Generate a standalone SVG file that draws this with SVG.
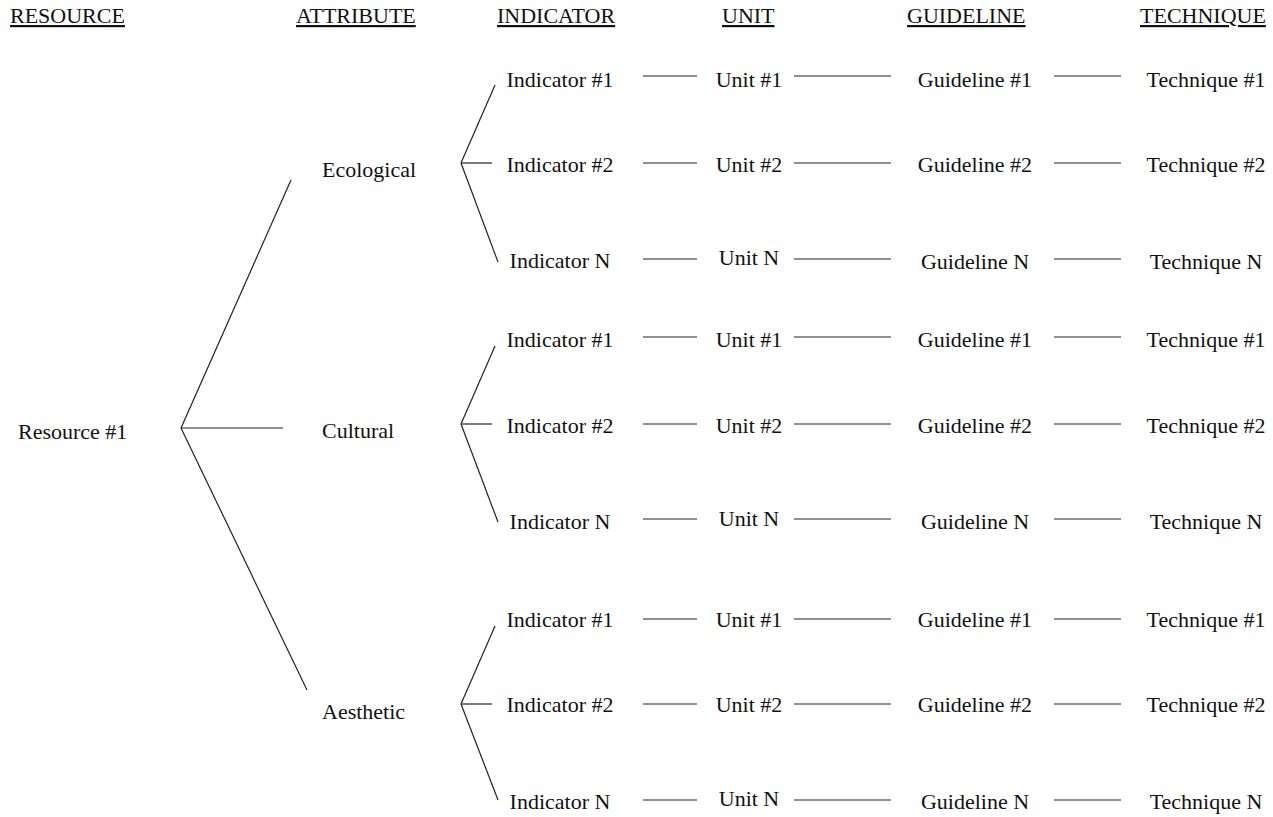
<svg xmlns="http://www.w3.org/2000/svg" width="1273" height="817" viewBox="0 0 1273 817">
<style>
text{font-family:"Liberation Serif","Times New Roman",serif;font-size:22px;fill:#111}
.h{text-decoration:underline}
.m{text-anchor:middle}
#connectors line{stroke:#222;stroke-width:1.2}
</style>
<rect width="1273" height="817" fill="#fff"/>
<g id="headers">
<text class="h" x="10" y="23">RESOURCE</text>
<text class="h" x="296" y="23">ATTRIBUTE</text>
<text class="h" x="497" y="23">INDICATOR</text>
<text class="h" x="722" y="23">UNIT</text>
<text class="h" x="907" y="23">GUIDELINE</text>
<text class="h" x="1140" y="23">TECHNIQUE</text>
</g>
<g id="connectors">
<line x1="181" y1="428" x2="291" y2="180"/>
<line x1="181" y1="428" x2="283" y2="428"/>
<line x1="181" y1="428" x2="307" y2="690"/>
<line x1="461" y1="163" x2="495" y2="85"/>
<line x1="461" y1="163" x2="492" y2="163"/>
<line x1="461" y1="163" x2="498" y2="262"/>
<line x1="461" y1="424" x2="495" y2="346"/>
<line x1="461" y1="424" x2="492" y2="424"/>
<line x1="461" y1="424" x2="498" y2="522"/>
<line x1="461" y1="704" x2="495" y2="626"/>
<line x1="461" y1="704" x2="492" y2="704"/>
<line x1="461" y1="704" x2="498" y2="800"/>
<g id="rows">
<line x1="643" y1="76" x2="697" y2="76"/><line x1="794" y1="76" x2="891" y2="76"/><line x1="1054" y1="76" x2="1121" y2="76"/>
<line x1="643" y1="163" x2="697" y2="163"/><line x1="794" y1="163" x2="891" y2="163"/><line x1="1054" y1="163" x2="1121" y2="163"/>
<line x1="643" y1="259" x2="697" y2="259"/><line x1="794" y1="259" x2="891" y2="259"/><line x1="1054" y1="259" x2="1121" y2="259"/>
<line x1="643" y1="337" x2="697" y2="337"/><line x1="794" y1="337" x2="891" y2="337"/><line x1="1054" y1="337" x2="1121" y2="337"/>
<line x1="643" y1="424" x2="697" y2="424"/><line x1="794" y1="424" x2="891" y2="424"/><line x1="1054" y1="424" x2="1121" y2="424"/>
<line x1="643" y1="519" x2="697" y2="519"/><line x1="794" y1="519" x2="891" y2="519"/><line x1="1054" y1="519" x2="1121" y2="519"/>
<line x1="643" y1="619" x2="697" y2="619"/><line x1="794" y1="619" x2="891" y2="619"/><line x1="1054" y1="619" x2="1121" y2="619"/>
<line x1="643" y1="704" x2="697" y2="704"/><line x1="794" y1="704" x2="891" y2="704"/><line x1="1054" y1="704" x2="1121" y2="704"/>
<line x1="643" y1="800" x2="697" y2="800"/><line x1="794" y1="800" x2="891" y2="800"/><line x1="1054" y1="800" x2="1121" y2="800"/>
</g>
</g>
<g id="resource"><text x="18" y="439">Resource #1</text></g>
<g id="attr-ecological"><text x="322" y="177">Ecological</text></g>
<g id="attr-cultural"><text x="322" y="438">Cultural</text></g>
<g id="attr-aesthetic"><text x="322" y="719">Aesthetic</text></g>
<g id="eco">
<g id="eco-i1"><text class="m" x="560" y="87">Indicator #1</text></g>
<g id="eco-u1"><text class="m" x="749" y="87">Unit #1</text></g>
<g id="eco-g1"><text class="m" x="975" y="87">Guideline #1</text></g>
<g id="eco-t1"><text class="m" x="1206" y="87">Technique #1</text></g>
<g id="eco-i2"><text class="m" x="560" y="172">Indicator #2</text></g>
<g id="eco-u2"><text class="m" x="749" y="172">Unit #2</text></g>
<g id="eco-g2"><text class="m" x="975" y="172">Guideline #2</text></g>
<g id="eco-t2"><text class="m" x="1206" y="172">Technique #2</text></g>
<g id="eco-iN"><text class="m" x="560" y="268">Indicator N</text></g>
<g id="eco-uN"><text class="m" x="749" y="265">Unit N</text></g>
<g id="eco-gN"><text class="m" x="975" y="269">Guideline N</text></g>
<g id="eco-tN"><text class="m" x="1206" y="269">Technique N</text></g>
</g>
<g id="cul">
<g id="cul-i1"><text class="m" x="560" y="347">Indicator #1</text></g>
<g id="cul-u1"><text class="m" x="749" y="347">Unit #1</text></g>
<g id="cul-g1"><text class="m" x="975" y="347">Guideline #1</text></g>
<g id="cul-t1"><text class="m" x="1206" y="347">Technique #1</text></g>
<g id="cul-i2"><text class="m" x="560" y="433">Indicator #2</text></g>
<g id="cul-u2"><text class="m" x="749" y="433">Unit #2</text></g>
<g id="cul-g2"><text class="m" x="975" y="433">Guideline #2</text></g>
<g id="cul-t2"><text class="m" x="1206" y="433">Technique #2</text></g>
<g id="cul-iN"><text class="m" x="560" y="529">Indicator N</text></g>
<g id="cul-uN"><text class="m" x="749" y="526">Unit N</text></g>
<g id="cul-gN"><text class="m" x="975" y="529">Guideline N</text></g>
<g id="cul-tN"><text class="m" x="1206" y="529">Technique N</text></g>
</g>
<g id="aes">
<g id="aes-i1"><text class="m" x="560" y="627">Indicator #1</text></g>
<g id="aes-u1"><text class="m" x="749" y="627">Unit #1</text></g>
<g id="aes-g1"><text class="m" x="975" y="627">Guideline #1</text></g>
<g id="aes-t1"><text class="m" x="1206" y="627">Technique #1</text></g>
<g id="aes-i2"><text class="m" x="560" y="712">Indicator #2</text></g>
<g id="aes-u2"><text class="m" x="749" y="712">Unit #2</text></g>
<g id="aes-g2"><text class="m" x="975" y="712">Guideline #2</text></g>
<g id="aes-t2"><text class="m" x="1206" y="712">Technique #2</text></g>
<g id="aes-iN"><text class="m" x="560" y="809">Indicator N</text></g>
<g id="aes-uN"><text class="m" x="749" y="806">Unit N</text></g>
<g id="aes-gN"><text class="m" x="975" y="809">Guideline N</text></g>
<g id="aes-tN"><text class="m" x="1206" y="809">Technique N</text></g>
</g>
</svg>
